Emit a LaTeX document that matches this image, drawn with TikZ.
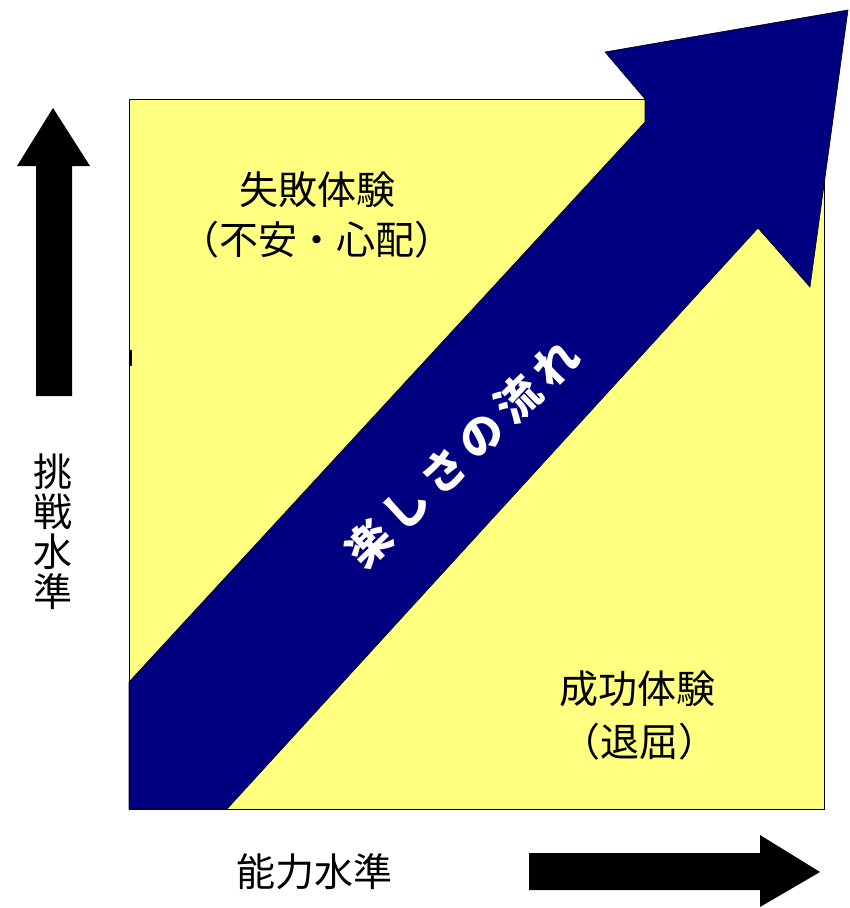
\documentclass[tikz,border=0pt]{standalone}
\usepackage{fontspec}
\newfontfamily\cjk{Noto Sans CJK JP}
\definecolor{paleyellow}{HTML}{FFFF80}
\definecolor{navyblue}{HTML}{000080}
\tikzset{
  lbl/.style={font=\cjk\fontsize{39}{42}\selectfont, inner sep=0pt, align=center, text=black},
  bandlbl/.style={font=\cjk\bfseries\fontsize{44}{46}\selectfont, inner sep=0pt, text=white},
  blockarrow/.style={fill=black, draw=none}
}
\begin{document}
\begin{tikzpicture}[x=1pt,y=-1pt]
\useasboundingbox (0,0) rectangle (850,908);
% yellow square
\draw[fill=paleyellow, draw=black, line width=1pt] (129,99) rectangle (824,809);
\draw[line width=2.5pt] (131,350) -- (131,366);
% big navy arrow
\fill[navyblue, draw=black, line width=0.6pt] (129,682) -- (645,122) -- (645,99) -- (605,52) -- (848,10) -- (810,287) -- (758,228) -- (227,809) -- (129,809) -- cycle;
\draw[line width=1pt] (129,99) -- (129,809) -- (227,809);
% left up arrow
\fill[blockarrow] (36,396) -- (36,166) -- (17,166) -- (53,108) -- (90,166) -- (72,166) -- (72,396) -- cycle;
% bottom right arrow
\fill[blockarrow] (529,853) -- (760,853) -- (760,835) -- (820,872) -- (760,907) -- (760,890) -- (529,890) -- cycle;
% labels
\node[lbl] (fail) at (317,190) {失敗体験};
\node[lbl] (failsub) at (317,240) {（不安・心配）};
\node[lbl] (succ) at (637,689) {成功体験};
\node[lbl] (succsub) at (639,742) {（退屈）};
\node[lbl] (ability) at (314,872) {能力水準};
\node[lbl, font=\cjk\fontsize{39}{40}\selectfont] (challenge) at (53,532) {挑\\戦\\水\\準};
\node[bandlbl, rotate=44] (flow) at (462,453) {楽\hspace{8pt}し\hspace{8pt}さ\hspace{8pt}の\hspace{8pt}流\hspace{8pt}れ};
\end{tikzpicture}
\end{document}
